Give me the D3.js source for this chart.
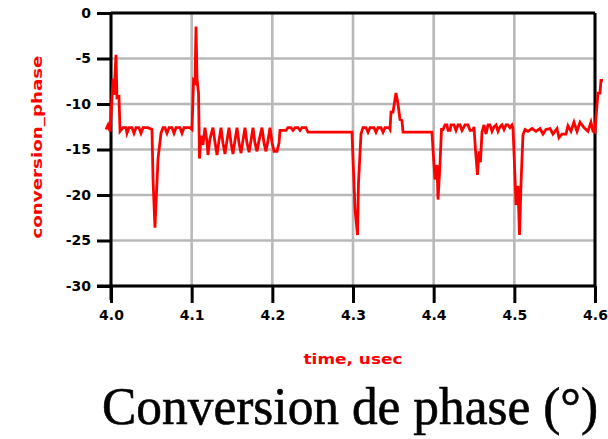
<!DOCTYPE html>
<html>
<head>
<meta charset="utf-8">
<script src="https://cdn.jsdelivr.net/npm/d3@7"></script>
<style>
  body { margin: 0; background: #fff; }
  svg { display: block; }
</style>
</head>
<body>
<div id="chartDiv"></div>
<script>
// time axis, usec
var time_us = [
  3.9938, 3.9963, 3.9988, 4.0000, 4.0025, 4.0037, 4.0062, 4.0074, 4.0099, 4.0112,
  4.0149, 4.0186, 4.0198, 4.0223, 4.0260, 4.0285, 4.0310, 4.0347, 4.0372, 4.0397,
  4.0459, 4.0508, 4.0521, 4.0545, 4.0558, 4.0583, 4.0620, 4.0645, 4.0669, 4.0694,
  4.0719, 4.0756, 4.0781, 4.0806, 4.0855, 4.0880, 4.0905, 4.0979, 4.1004, 4.1023,
  4.1041, 4.1054, 4.1066, 4.1085, 4.1097, 4.1116, 4.1140, 4.1165, 4.1190, 4.1202,
  4.1227, 4.1264, 4.1289, 4.1314, 4.1339, 4.1364, 4.1388, 4.1413, 4.1438, 4.1463,
  4.1488, 4.1512, 4.1537, 4.1562, 4.1587, 4.1612, 4.1636, 4.1661, 4.1686, 4.1711,
  4.1736, 4.1760, 4.1785, 4.1810, 4.1835, 4.1872, 4.1897, 4.1921, 4.1946, 4.1971,
  4.1996, 4.2021, 4.2058, 4.2083, 4.2095, 4.2120, 4.2169, 4.2194, 4.2231, 4.2256,
  4.2281, 4.2318, 4.2343, 4.2368, 4.2417, 4.2442, 4.2988, 4.3000, 4.3025, 4.3056,
  4.3068, 4.3099, 4.3124, 4.3161, 4.3186, 4.3211, 4.3260, 4.3285, 4.3310, 4.3347,
  4.3372, 4.3397, 4.3446, 4.3459, 4.3471, 4.3496, 4.3533, 4.3558, 4.3583, 4.3607,
  4.3620, 4.3979, 4.3992, 4.4016, 4.4041, 4.4054, 4.4078, 4.4097, 4.4116, 4.4141,
  4.4165, 4.4178, 4.4203, 4.4215, 4.4252, 4.4277, 4.4302, 4.4327, 4.4351, 4.4389,
  4.4426, 4.4451, 4.4488, 4.4500, 4.4518, 4.4543, 4.4562, 4.4580, 4.4599, 4.4624,
  4.4649, 4.4674, 4.4698, 4.4723, 4.4748, 4.4773, 4.4797, 4.4822, 4.4847, 4.4872,
  4.4897, 4.4921, 4.4946, 4.4971, 4.4983, 4.4996, 4.5021, 4.5045, 4.5064, 4.5083,
  4.5107, 4.5132, 4.5169, 4.5219, 4.5268, 4.5318, 4.5355, 4.5392, 4.5442, 4.5479,
  4.5529, 4.5553, 4.5591, 4.5640, 4.5665, 4.5702, 4.5739, 4.5777, 4.5814, 4.5863,
  4.5913, 4.5950, 4.5975, 4.6000, 4.6012, 4.6037, 4.6062, 4.6074, 4.6099
];

// conversion_phase, degrees
var phase_deg = [
  -12.8, -12.3, -13.0, -11.3, -7.2, -9.0, -4.6, -9.3, -9.2, -13.0,
  -12.6, -12.6, -13.2, -12.6, -12.6, -13.2, -12.6, -12.6, -13.2, -12.6,
  -12.6, -12.8, -18.3, -23.6, -20.9, -16.0, -13.2, -12.6, -12.6, -13.2,
  -12.6, -12.6, -13.2, -12.6, -12.6, -13.2, -12.6, -12.6, -12.8, -7.4,
  -7.6, -1.5, -7.2, -8.8, -16.0, -13.5, -14.5, -12.6, -14.2, -15.6,
  -13.8, -12.6, -14.2, -15.6, -14.0, -12.6, -14.3, -15.5, -14.0, -12.6,
  -14.3, -15.5, -14.0, -12.6, -14.3, -15.4, -14.0, -12.6, -14.3, -15.3,
  -14.0, -12.6, -14.3, -15.2, -14.0, -12.6, -14.3, -15.2, -14.0, -12.6,
  -14.2, -15.2, -15.2, -14.3, -12.9, -12.9, -12.9, -12.6, -12.6, -12.9,
  -12.6, -12.6, -12.9, -12.6, -12.6, -13.1, -13.1, -16.0, -21.6, -24.4,
  -18.7, -13.3, -12.6, -12.6, -13.1, -12.6, -12.6, -13.1, -12.6, -12.6,
  -13.1, -12.6, -12.6, -12.8, -10.9, -10.9, -8.8, -10.0, -11.7, -11.8,
  -13.1, -13.1, -15.0, -18.3, -16.7, -20.5, -16.7, -12.8, -12.8, -12.3,
  -12.3, -12.9, -12.9, -12.3, -12.3, -12.9, -12.3, -12.3, -12.9, -12.3,
  -12.3, -12.9, -12.9, -12.5, -15.0, -17.8, -15.2, -16.4, -13.1, -12.3,
  -13.3, -12.3, -12.3, -13.0, -12.5, -12.3, -13.0, -12.5, -12.3, -12.8,
  -12.3, -12.3, -12.6, -12.3, -12.6, -15.3, -21.1, -19.0, -24.4, -18.7,
  -13.4, -12.8, -13.0, -12.7, -13.0, -12.7, -13.3, -12.8, -12.7, -13.3,
  -12.7, -13.7, -13.3, -13.3, -12.4, -13.0, -12.0, -13.0, -12.0, -12.6,
  -13.0, -12.0, -13.0, -13.1, -11.5, -8.8, -8.8, -7.4, -7.4
];

var xTicks = [4.0, 4.1, 4.2, 4.3, 4.4, 4.5, 4.6];
var xTickLabels = ["4.0", "4.1", "4.2", "4.3", "4.4", "4.5", "4.6"];
var yTicks = [0, -5, -10, -15, -20, -25, -30];
var yTickLabels = ["0", "-5", "-10", "-15", "-20", "-25", "-30"];

var xAxisLabelHeader = "time, usec";
var yAxisLabelHeader = "conversion_phase";
var titleText = "Conversion de phase (\u00b0)";

var width = 608;
var height = 439;
var margin = { top: 13, right: 13, bottom: 153, left: 111 };

var gridColor = "#b8b8b8";
var lineColor = "#ff0000";

var chart;
var chartWidth = width - margin.left - margin.right;
var chartHeight = height - margin.top - margin.bottom;

init();

function init() {
  chart = d3.select("#chartDiv").append("svg")
    .attr("width", width)
    .attr("height", height);

  chart.xScale = d3.scaleLinear()
    .domain([4.0, 4.6])
    .range([margin.left, margin.left + chartWidth]);

  chart.yScale = d3.scaleLinear()
    .domain([0, -30])
    .range([margin.top, margin.top + chartHeight]);

  drawGrid();
  createAxes();
  drawLine();
  drawTitles();
}

function drawGrid() {
  var grid = chart.append("g").attr("class", "grid");

  // vertical grid
  grid.selectAll(".vgrid")
    .data(xTicks)
    .enter().append("line")
      .attr("class", "vgrid")
      .attr("x1", function(d) { return chart.xScale(d); })
      .attr("x2", function(d) { return chart.xScale(d); })
      .attr("y1", chart.yScale(0))
      .attr("y2", chart.yScale(-30))
      .style("stroke", gridColor)
      .style("stroke-width", 2.6);

  // horizontal grid
  grid.selectAll(".hgrid")
    .data(yTicks)
    .enter().append("line")
      .attr("class", "hgrid")
      .attr("x1", chart.xScale(4.0))
      .attr("x2", chart.xScale(4.6))
      .attr("y1", function(d) { return chart.yScale(d); })
      .attr("y2", function(d) { return chart.yScale(d); })
      .style("stroke", gridColor)
      .style("stroke-width", 2.6);
}

function createAxes() {
  // x axis
  chart.xAxis = d3.axisBottom(chart.xScale)
    .tickValues(xTicks)
    .tickFormat(function(d, i) { return xTickLabels[i]; })
    .tickSize(17)
    .tickSizeOuter(0)
    .tickPadding(7);

  chart.xAxisContainer = chart.append("g")
    .attr("class", "x axis")
    .attr("transform", "translate(0," + chart.yScale(-30) + ")")
    .call(chart.xAxis);

  // y axis
  chart.yAxis = d3.axisLeft(chart.yScale)
    .tickValues(yTicks)
    .tickFormat(function(d, i) { return yTickLabels[i]; })
    .tickSize(14)
    .tickSizeOuter(0)
    .tickPadding(6);

  chart.yAxisContainer = chart.append("g")
    .attr("class", "y axis")
    .attr("transform", "translate(" + chart.xScale(4.0) + ",0)")
    .call(chart.yAxis);

  chart.selectAll(".axis .domain").remove();
  chart.selectAll(".axis line")
    .style("stroke", "#000")
    .style("stroke-width", 3);
  chart.selectAll(".axis text")
    .style("font-family", "DejaVu Sans, sans-serif")
    .style("font-weight", "bold")
    .style("font-size", "14px")
    .style("fill", "#000");

  // frame: left, bottom, top, right
  var x0 = chart.xScale(4.0), x1 = chart.xScale(4.6);
  var y0 = chart.yScale(0), y1 = chart.yScale(-30);
  var frame = [
    [x0, y0 - 1, x0, y1 + 14],
    [x0 - 14, y1, x1, y1],
    [x0, y0, x1, y0],
    [x1, y0, x1, y1]
  ];
  chart.selectAll(".frame")
    .data(frame)
    .enter().append("line")
      .attr("class", "frame")
      .attr("x1", function(d) { return d[0]; })
      .attr("y1", function(d) { return d[1]; })
      .attr("x2", function(d) { return d[2]; })
      .attr("y2", function(d) { return d[3]; })
      .style("stroke", "#000")
      .style("stroke-width", 3);
}

function drawLine() {
  var pts = time_us.map(function(t, i) { return [t, phase_deg[i]]; });

  var line = d3.line()
    .x(function(d) { return chart.xScale(d[0]); })
    .y(function(d) { return chart.yScale(d[1]); });

  chart.append("path")
    .datum(pts)
    .attr("class", "phase-line")
    .attr("d", line)
    .style("fill", "none")
    .style("stroke", lineColor)
    .style("stroke-width", 2.8)
    .style("stroke-linejoin", "miter");
}

function drawTitles() {
  // x axis header label
  chart.append("text")
    .attr("x", 353)
    .attr("y", 364)
    .attr("text-anchor", "middle")
    .attr("textLength", 99)
    .attr("lengthAdjust", "spacingAndGlyphs")
    .style("font-family", "DejaVu Sans, sans-serif")
    .style("font-weight", "bold")
    .style("font-size", "14px")
    .style("fill", lineColor)
    .text(xAxisLabelHeader);

  // y axis header label
  chart.append("text")
    .attr("text-anchor", "middle")
    .attr("transform", "translate(42,147) rotate(-90)")
    .attr("textLength", 183)
    .attr("lengthAdjust", "spacingAndGlyphs")
    .style("font-family", "DejaVu Sans, sans-serif")
    .style("font-weight", "bold")
    .style("font-size", "14px")
    .style("fill", lineColor)
    .text(yAxisLabelHeader);

  // big caption under the chart
  chart.append("text")
    .attr("x", 102)
    .attr("y", 424)
    .attr("textLength", 496)
    .attr("lengthAdjust", "spacingAndGlyphs")
    .style("font-family", "Liberation Serif, Times New Roman, serif")
    .style("font-size", "52px")
    .style("fill", "#000")
    .style("stroke", "#000")
    .style("stroke-width", 0.6)
    .text(titleText);
}
</script>
</body>
</html>
